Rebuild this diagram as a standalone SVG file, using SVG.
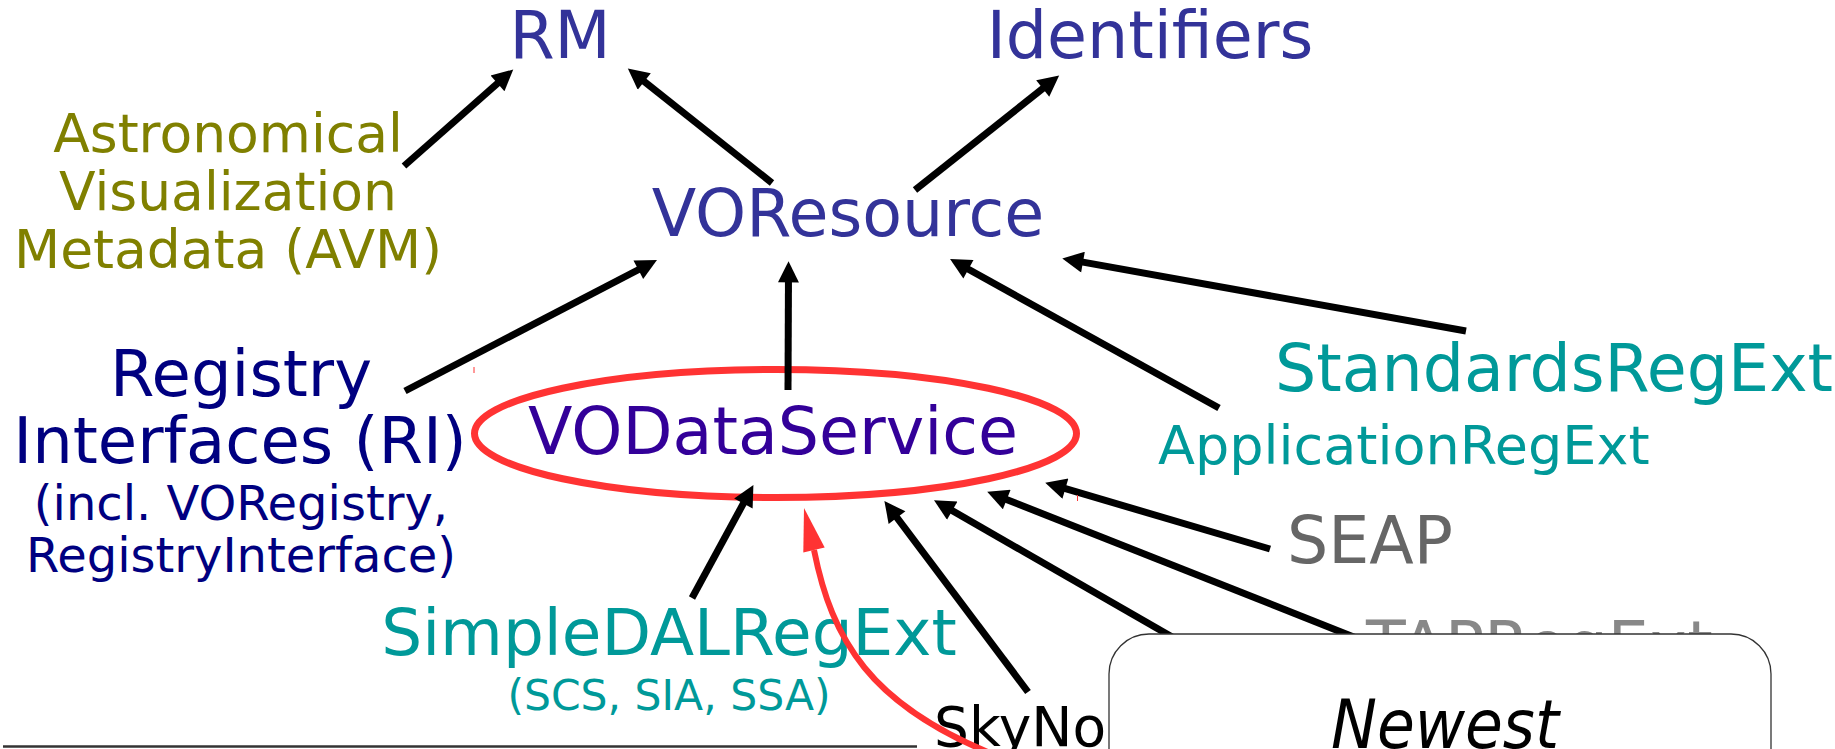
<svg xmlns="http://www.w3.org/2000/svg" width="1835" height="749" viewBox="0 0 1835 749">
<style>
text{font-family:"DejaVu Sans","Liberation Sans",sans-serif;}
.c{text-anchor:middle;}
.big{font-size:65px;}
.mid{font-size:54px;}
.blue{fill:#333399;}
.purple{fill:#330099;}
.navy{fill:#000080;}
.olive{fill:#808000;}
.teal{fill:#009999;}
.gray{fill:#666666;}
.lgray{fill:#888888;}
.arr{stroke:#000;stroke-width:7;fill:none;marker-end:url(#ah);}
</style>
<defs>
<marker id="ah" viewBox="0 0 10 10" refX="5.4" refY="5" markerUnits="userSpaceOnUse" markerWidth="26" markerHeight="21" orient="auto">
<path d="M0,0 L10,5 L0,10 z" fill="#000"/>
</marker>
</defs>
<rect width="1835" height="749" fill="#fff"/>

<g id="node-rm"><text class="c big blue" x="560" y="58">RM</text></g>
<g id="node-identifiers"><text class="c big blue" x="1150" y="58">Identifiers</text></g>
<g id="node-voresource"><text class="c big blue" x="848" y="236">VOResource</text></g>
<g id="node-avm">
<text class="c olive" font-size="53.5" x="228" y="152">Astronomical</text>
<text class="c olive" font-size="53.5" x="228" y="210">Visualization</text>
<text class="c olive" font-size="53.5" x="228" y="268">Metadata (AVM)</text>
</g>
<g id="node-ri">
<text class="c navy" font-size="64" x="241" y="396">Registry</text>
<text class="c navy" font-size="64" x="240" y="463">Interfaces (RI)</text>
<text class="c navy" font-size="48" x="241" y="520">(incl. VORegistry,</text>
<text class="c navy" font-size="48" x="241" y="572">RegistryInterface)</text>
</g>
<g id="node-vodataservice">
<ellipse cx="775.5" cy="433.5" rx="301" ry="64" fill="none" stroke="#ff3333" stroke-width="7"/>
<text class="c big purple" x="773" y="454">VODataService</text>
</g>
<g id="node-standardsregext"><text class="big teal" x="1275" y="391">StandardsRegExt</text></g>
<g id="node-applicationregext"><text class="mid teal" x="1158" y="464">ApplicationRegExt</text></g>
<g id="node-seap"><text class="big gray" x="1287" y="563">SEAP</text></g>
<g id="node-tapregext"><text class="big lgray" x="1366" y="668">TAPRegExt</text></g>
<g id="node-simpledalregext">
<text class="c teal" font-size="64.5" x="669" y="655">SimpleDALRegExt</text>
<text class="c teal" font-size="42.5" x="669" y="710">(SCS, SIA, SSA)</text>
</g>
<g id="node-skynode"><text font-size="55" fill="#000" x="934" y="746">SkyNode</text></g>

<g id="connectors">
<line class="arr" x1="405" y1="391" x2="648.4" y2="264.5"/>
<line class="arr" x1="404" y1="166" x2="506" y2="75.9"/>
<line class="arr" x1="772" y1="183" x2="635.4" y2="74.4"/>
<line class="arr" x1="915" y1="190" x2="1051.6" y2="81.5"/>
<line class="arr" x1="788" y1="390" x2="788.5" y2="271"/>
<line class="arr" x1="1219" y1="408" x2="958.5" y2="263.8"/>
<line class="arr" x1="1466" y1="331" x2="1071.8" y2="260.1"/>
<line class="arr" x1="692" y1="598" x2="748.8" y2="493.5"/>
<line class="arr" x1="1028" y1="692" x2="890.2" y2="508.6"/>
<line class="arr" x1="1200" y1="653" x2="942.4" y2="505"/>
<line class="arr" x1="1365" y1="641.4" x2="996.2" y2="495.4"/>
<line class="arr" x1="1270" y1="549" x2="1054.5" y2="485.4"/>
<path d="M995,755 C870,705 832,640 814,550" fill="none" stroke="#ff3333" stroke-width="6"/>
<polygon points="804,508 824.7,547.5 803.3,552.5" fill="#ff3333"/>
</g>

<g id="marks">
<line x1="474" y1="367" x2="474" y2="373" stroke="#ff3333" stroke-width="1"/>
<line x1="1077.5" y1="495" x2="1077.5" y2="501" stroke="#ff3333" stroke-width="1"/>
<line x1="3" y1="746.5" x2="917" y2="746.5" stroke="#333" stroke-width="2.5"/>
</g>

<g id="node-newest">
<rect x="1109" y="634" width="662" height="220" rx="40" ry="40" fill="#fff" stroke="#333" stroke-width="1.3"/>
<text x="1331" y="748" font-size="68" font-style="italic" fill="#000" textLength="228" lengthAdjust="spacingAndGlyphs">Newest</text>
</g>
</svg>
